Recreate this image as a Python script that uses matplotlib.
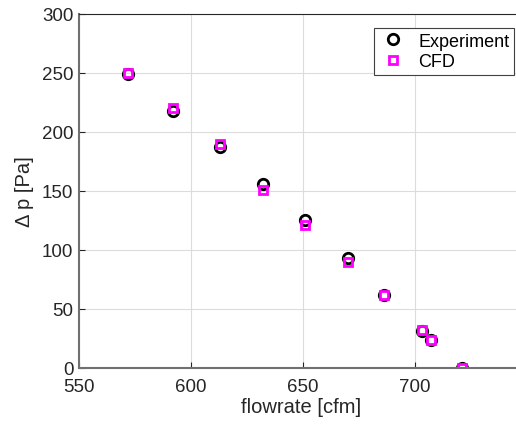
import matplotlib
matplotlib.use('Agg')
import matplotlib.pyplot as plt

plt.rcParams['font.family'] = ['Liberation Sans', 'DejaVu Sans']

flow_exp = [572, 592, 613, 632, 651, 670, 686, 703, 707, 721]
dp_exp = [249, 218, 187, 156, 125, 93, 62, 31, 24, 0]
flow_cfd = [572, 592, 613, 632, 651, 670, 686, 703, 707, 721]
dp_cfd = [250, 220, 190, 151, 121, 90, 62, 32, 24, 0]

fig = plt.figure(figsize=(5.16, 4.27), dpi=100)
ax = fig.add_axes([79 / 516, 58 / 427, 445 / 516, 354 / 427])

ax.plot(flow_exp, dp_exp, 'o', mfc='none', mec='black', mew=2, ms=7.5, label='Experiment')
ax.plot(flow_cfd, dp_cfd, 's', mfc='none', mec='magenta', mew=2, ms=6, label='CFD')

ax.set_xlim(550, 748.7)
ax.set_ylim(0, 300)
ax.set_xticks([550, 600, 650, 700])
ax.set_yticks([0, 50, 100, 150, 200, 250, 300])
ax.grid(True, color='#dcdcdc', linewidth=0.8)
ax.set_axisbelow(True)
ax.tick_params(direction='in', labelsize=13.5, colors='#262626', length=4)
ax.tick_params(axis='x', pad=7)
ax.tick_params(axis='y', pad=4)
for s in ['left', 'bottom']:
    ax.spines[s].set_color('#707070')
    ax.spines[s].set_linewidth(1.5)
ax.spines['top'].set_color('#262626')
ax.spines['right'].set_visible(False)

ax.set_xlabel('flowrate [cfm]', fontsize=14.5, color='#262626', labelpad=2)
ax.set_ylabel('Δ p [Pa]', fontsize=14.5, color='#262626', labelpad=6)

leg = ax.legend(loc='upper right', bbox_to_anchor=(0.985, 0.97), fontsize=13,
                fancybox=False, framealpha=1, edgecolor='#404040',
                borderpad=0.25, handletextpad=0.6, labelspacing=0.2,
                borderaxespad=0.2, handlelength=1.6)
leg.get_frame().set_linewidth(0.8)

fig.savefig('out.png', dpi=100)
